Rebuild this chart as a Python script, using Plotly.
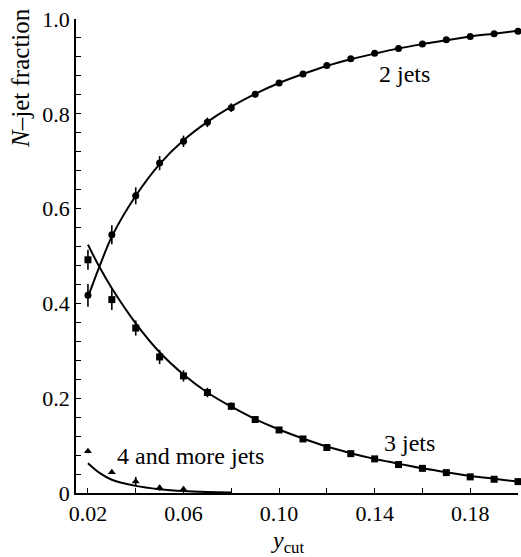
import plotly.graph_objects as go

# ---- data ----
ycut = [0.02, 0.03, 0.04, 0.05, 0.06, 0.07, 0.08, 0.09, 0.10, 0.11,
        0.12, 0.13, 0.14, 0.15, 0.16, 0.17, 0.18, 0.19, 0.20]
two_jets = [0.417, 0.545, 0.627, 0.696, 0.742, 0.782, 0.813, 0.841, 0.865, 0.884,
            0.902, 0.916, 0.928, 0.938, 0.947, 0.956, 0.963, 0.969, 0.974]
two_err = [0.024, 0.020, 0.018, 0.015, 0.012, 0.010, 0.009, 0.006, 0.004, 0.004,
           0.004, 0.004, 0.004, 0.004, 0.004, 0.004, 0.004, 0.004, 0.004]
three_jets = [0.492, 0.408, 0.348, 0.287, 0.247, 0.212, 0.183, 0.155, 0.133, 0.114,
              0.096, 0.083, 0.072, 0.060, 0.052, 0.043, 0.034, 0.029, 0.024]
three_err = [0.021, 0.022, 0.016, 0.015, 0.012, 0.010, 0.008, 0.006, 0.004, 0.004,
             0.004, 0.004, 0.004, 0.004, 0.004, 0.004, 0.004, 0.004, 0.004]
ycut4 = [0.02, 0.03, 0.04, 0.05, 0.06]
four_jets = [0.088, 0.044, 0.024, 0.011, 0.008]
four_err = [0.004, 0.004, 0.010, 0.006, 0.006]

# theory curves
ycut_th = [0.02, 0.025, 0.03, 0.04, 0.05, 0.06, 0.07, 0.08, 0.09, 0.10, 0.11,
           0.12, 0.13, 0.14, 0.15, 0.16, 0.17, 0.18, 0.19, 0.20]
two_th = [0.413, 0.480, 0.541, 0.627, 0.694, 0.744, 0.783, 0.815, 0.842, 0.865, 0.884,
          0.901, 0.915, 0.927, 0.938, 0.947, 0.955, 0.963, 0.969, 0.975]
three_th = [0.524, 0.475, 0.432, 0.358, 0.297, 0.250, 0.212, 0.182, 0.156, 0.134, 0.115,
            0.098, 0.084, 0.072, 0.062, 0.052, 0.044, 0.036, 0.030, 0.024]
ycut4_th = [0.02, 0.025, 0.03, 0.04, 0.05, 0.06, 0.07, 0.08]
four_th = [0.063, 0.042, 0.028, 0.015, 0.008, 0.004, 0.002, 0.001]

x_major = [0.02, 0.06, 0.10, 0.14, 0.18]
x_major_labels = ["0.02", "0.06", "0.10", "0.14", "0.18"]
x_minor = [0.04, 0.08, 0.12, 0.16, 0.20]
y_major = [0, 0.2, 0.4, 0.6, 0.8, 1.0]
y_major_labels = ["0", "0.2", "0.4", "0.6", "0.8", "1.0"]
y_minor = [0.04, 0.08, 0.12, 0.16, 0.24, 0.28, 0.32, 0.36, 0.44, 0.48, 0.52, 0.56,
           0.64, 0.68, 0.72, 0.76, 0.84, 0.88, 0.92, 0.96]

FONT = "Liberation Serif"
BLACK = "black"

fig = go.Figure()

line_style = dict(color=BLACK, width=2)
fig.add_trace(go.Scatter(x=ycut_th, y=two_th, mode="lines", line=dict(shape="spline", **line_style),
                         hoverinfo="skip"))
fig.add_trace(go.Scatter(x=ycut_th, y=three_th, mode="lines", line=dict(shape="spline", **line_style),
                         hoverinfo="skip"))
fig.add_trace(go.Scatter(x=ycut4_th, y=four_th, mode="lines", line=dict(shape="spline", **line_style),
                         hoverinfo="skip"))

err_style = dict(type="data", visible=True, color=BLACK, thickness=1.6, width=0)
fig.add_trace(go.Scatter(x=ycut, y=two_jets, mode="markers",
                         marker=dict(symbol="circle", size=7, color=BLACK),
                         error_y=dict(array=two_err, **err_style), cliponaxis=False))
fig.add_trace(go.Scatter(x=ycut, y=three_jets, mode="markers",
                         marker=dict(symbol="square", size=7, color=BLACK),
                         error_y=dict(array=three_err, **err_style), cliponaxis=False))
fig.add_trace(go.Scatter(x=ycut4, y=four_jets, mode="markers",
                         marker=dict(symbol="triangle-up", size=7, color=BLACK),
                         error_y=dict(array=four_err, **err_style), cliponaxis=False))

label_font = dict(family=FONT, size=24, color=BLACK)
fig.add_annotation(x=0.1526, y=0.884, text="2 jets", showarrow=False, font=label_font)
fig.add_annotation(x=0.1544, y=0.105, text="3 jets", showarrow=False, font=label_font)
fig.add_annotation(x=0.0631, y=0.0786, text="4 and more jets", showarrow=False, font=label_font)

fig.add_annotation(xref="paper", yref="paper", x=-0.127, y=0.8755,
                   xanchor="center", yanchor="middle",
                   text="<i>N</i>–jet fraction", textangle=-90, showarrow=False,
                   font=dict(family=FONT, size=25, color=BLACK))
fig.add_annotation(xref="x", yref="paper", x=0.1035, y=-0.104,
                   xanchor="center", yanchor="middle",
                   text="<i>y</i><sub>cut</sub>", showarrow=False, font=label_font)

axis_common = dict(showgrid=False, zeroline=False, showline=True, linecolor=BLACK, linewidth=1.6,
                   ticks="inside", ticklen=5, tickwidth=1.4, tickcolor=BLACK, automargin=False,
                   tickfont=dict(family=FONT, size=22, color=BLACK), mirror=False)
minor_common = dict(ticks="inside", ticklen=5, tickwidth=1.4, tickcolor=BLACK, showgrid=False)
fig.update_xaxes(range=[0.015, 0.2], tickmode="array", tickvals=x_major, ticktext=x_major_labels,
                 minor=dict(tickvals=x_minor, **minor_common), **axis_common)
fig.update_yaxes(range=[0, 1.0], tickmode="array", tickvals=y_major, ticktext=y_major_labels,
                 minor=dict(tickvals=y_minor, **minor_common), **axis_common)

fig.update_layout(width=521, height=557, margin=dict(l=76, r=3, t=19, b=64),
                  paper_bgcolor="white", plot_bgcolor="white", showlegend=False,
                  font=dict(family=FONT, color=BLACK))

fig.write_html("out.html", config={"displayModeBar": False},
               post_script="document.body.style.margin='0';")
